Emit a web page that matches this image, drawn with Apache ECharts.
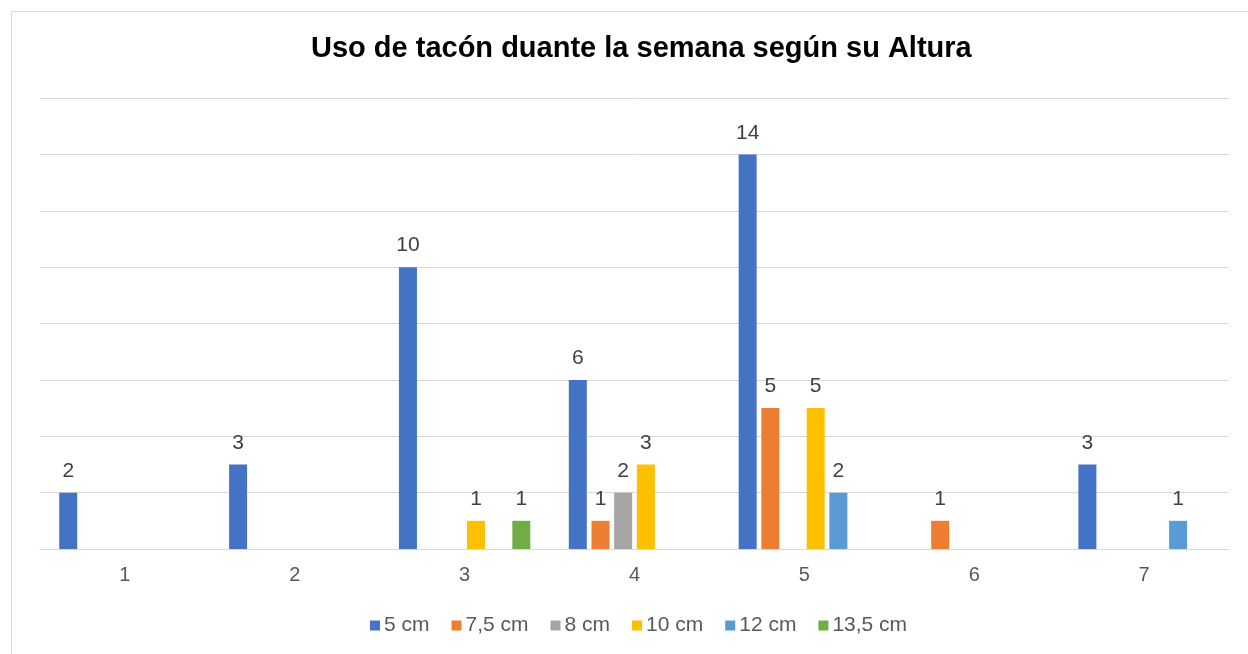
<!DOCTYPE html>
<html>
<head>
<meta charset="utf-8">
<script src="https://cdn.jsdelivr.net/npm/echarts@6/dist/echarts.min.js"></script>
<style>
  html, body { margin: 0; padding: 0; background: #fff; overflow: hidden; }
  .frame {
    position: absolute; left: 11px; top: 11px;
    width: 1300px; height: 700px;
    border: 1px solid #d9d9d9;
  }
  #chart { position: absolute; left: 0; top: 0; width: 1248px; height: 654px; }
</style>
</head>
<body>
<div class="frame"></div>
<div id="chart"></div>
<script>
const categories = ['1', '2', '3', '4', '5', '6', '7']
const seriesNames = ['5 cm', '7,5 cm', '8 cm', '10 cm', '12 cm', '13,5 cm']
const colors = ['#4472C4', '#ED7D31', '#A5A5A5', '#FFC000', '#5B9BD5', '#70AD47']

const s5 = [2, 3, 10, 6, 14, null, 3]
const s75 = [null, null, null, 1, 5, 1, null]
const s8 = [null, null, null, 2, null, null, null]
const s10 = [null, null, 1, 3, 5, null, null]
const s12 = [null, null, null, null, 2, null, 1]
const s135 = [null, null, 1, null, null, null, null]

const seriesData = [s5, s75, s8, s10, s12, s135]

const chart = echarts.init(document.getElementById('chart'))

const font = 'Liberation Sans, Arial'

const option = {
  animation: false,
  color: colors,
  title: {
    text: 'Uso de tacón duante la semana según su Altura',
    left: 306,
    top: 29,
    textStyle: { fontFamily: font, fontSize: 29, fontWeight: 'bold', color: '#000' }
  },
  legend: {
    bottom: 13,
    left: 365,
    itemWidth: 10,
    itemHeight: 10,
    itemGap: 22,
    icon: 'rect',
    textStyle: { fontFamily: font, fontSize: 21, color: '#595959', padding: [0, 0, 0, -1] },
    data: seriesNames
  },
  grid: { left: 40, right: 19, top: 98, bottom: 105 },
  xAxis: {
    type: 'category',
    data: categories,
    axisLine: { lineStyle: { color: '#d9d9d9' } },
    axisTick: { show: false },
    axisLabel: { fontFamily: font, fontSize: 20, color: '#595959', margin: 16 }
  },
  yAxis: {
    type: 'value',
    min: 0,
    max: 16,
    interval: 2,
    axisLabel: { show: false },
    axisLine: { show: false },
    axisTick: { show: false },
    splitLine: { lineStyle: { color: '#d9d9d9' } }
  },
  series: seriesNames.map((name, i) => ({
    name: name,
    type: 'bar',
    data: seriesData[i],
    barWidth: 18,
    barGap: '26%',
    itemStyle: { color: colors[i] },
    label: {
      show: true,
      position: 'top',
      distance: 11,
      fontFamily: font,
      fontSize: 21,
      color: '#404040'
    }
  }))
}

chart.setOption(option)
</script>
</body>
</html>
